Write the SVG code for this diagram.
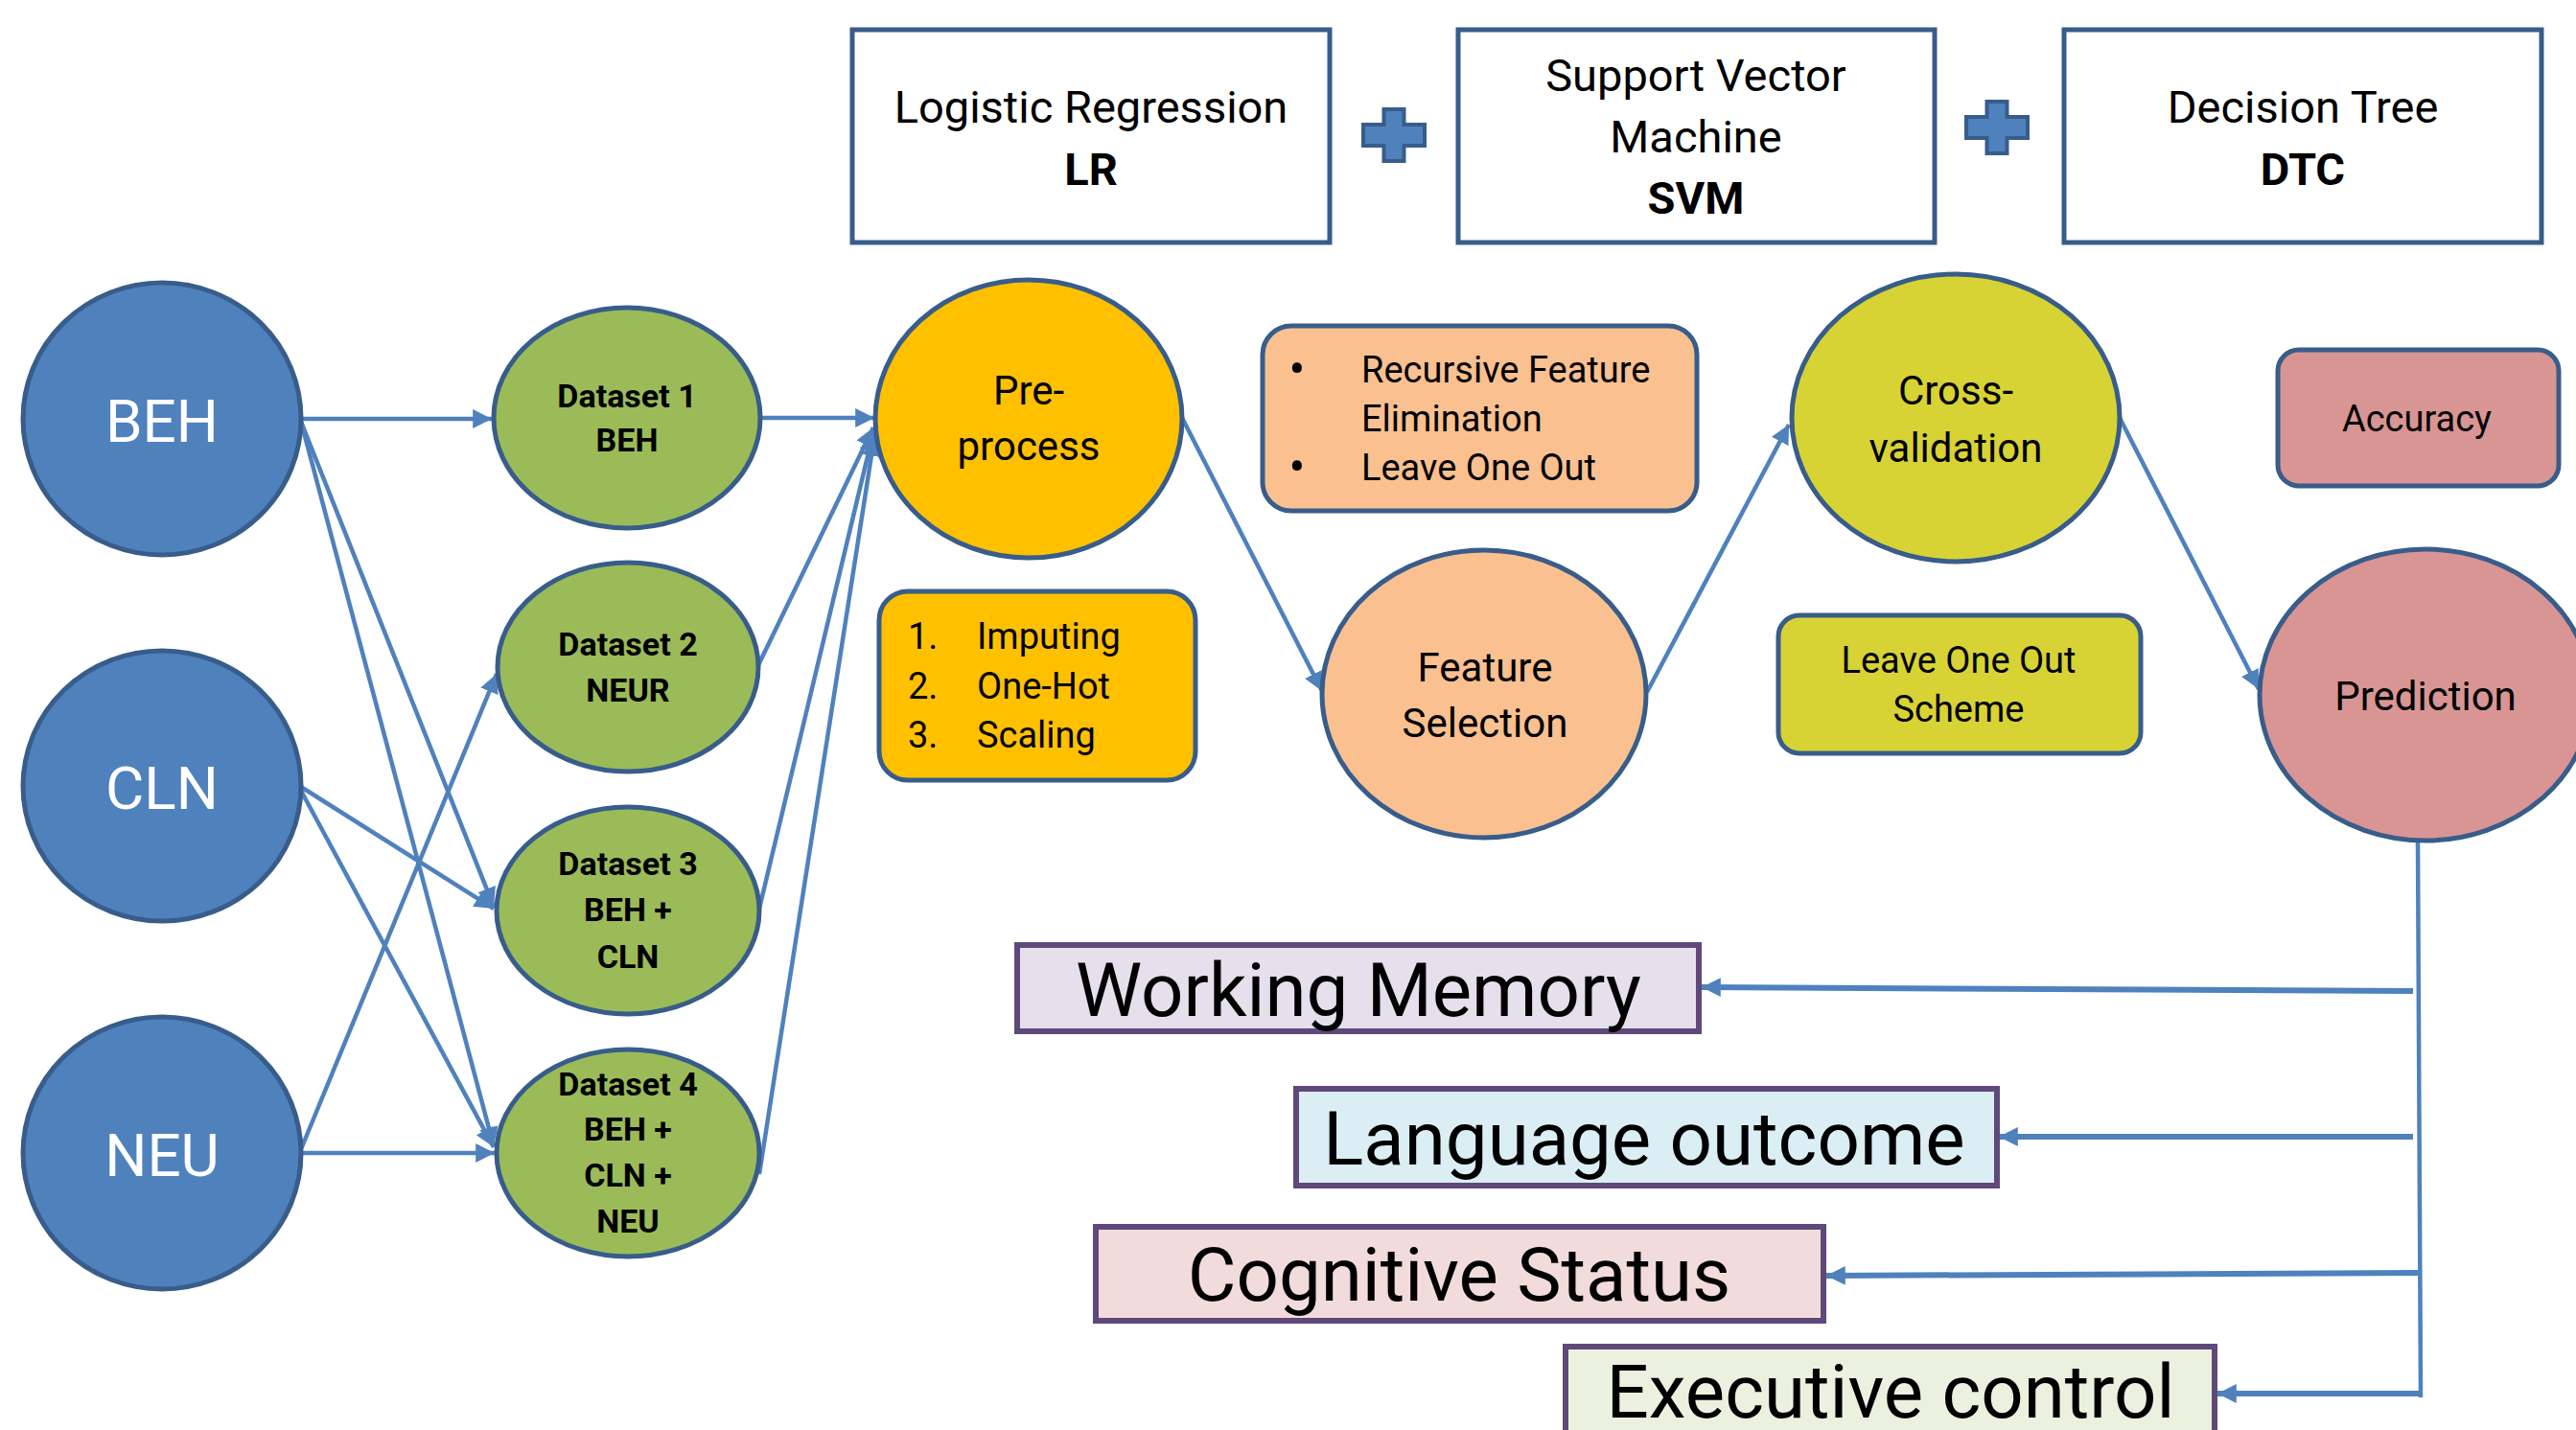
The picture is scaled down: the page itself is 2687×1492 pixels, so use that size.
<svg xmlns="http://www.w3.org/2000/svg" xmlns:xlink="http://www.w3.org/1999/xlink" width="2687" height="1492" viewBox="0 0 2687 1492">
<style>
text{font-family:Roboto,"Liberation Sans",sans-serif;fill:#000;text-anchor:middle}
.src{fill:#4F81BD;stroke:#385D8A;stroke-width:5}
.src-t{fill:#fff;font-size:62px}
.ds{fill:#9BBB59;stroke:#385D8A;stroke-width:5}
.ds-t{font-size:34px;font-weight:bold}
.model{fill:#fff;stroke:#385D8A;stroke-width:5}
.model-t{font-size:47px}
.b{font-weight:bold}
.step{stroke:#385D8A;stroke-width:5}
.step-t{font-size:42px}
.note-t{font-size:38px;text-anchor:start}
.bul{font-size:50px;text-anchor:middle}
.out{stroke:#5F497A;stroke-width:6}
.out-t{font-size:78px}
.conn line{stroke:#4F81BD;stroke-width:4.5;fill:none}
.conn .thick{stroke-width:6}
.plus{fill:#4F81BD;stroke:#385D8A;stroke-width:4}
</style>
<defs>
<marker id="arr" markerUnits="userSpaceOnUse" markerWidth="22" markerHeight="22" viewBox="0 0 20 20" refX="18" refY="10" orient="auto">
<path d="M0,1 L18,10 L0,19 Z" fill="#4F81BD"/>
</marker>
<path id="plusShape" d="M-10.5,-27 H10.5 V-11 H32 V11 H10.5 V27 H-10.5 V11 H-32 V-11 H-10.5 Z"/>
</defs>
<rect width="2687" height="1492" fill="#fff"/>

<g class="conn" id="connectors">
<line x1="314" y1="437" x2="513" y2="437" marker-end="url(#arr)"/>
<line x1="314" y1="440" x2="515" y2="946" marker-end="url(#arr)"/>
<line x1="314" y1="440" x2="515" y2="1196" marker-end="url(#arr)"/>
<line x1="314" y1="821" x2="515" y2="948" marker-end="url(#arr)"/>
<line x1="314" y1="825" x2="515" y2="1197" marker-end="url(#arr)"/>
<line x1="314" y1="1199" x2="518" y2="703" marker-end="url(#arr)"/>
<line x1="314" y1="1203" x2="516" y2="1203" marker-end="url(#arr)"/>
<line x1="794" y1="436" x2="912" y2="436" marker-end="url(#arr)"/>
<line x1="791" y1="694" x2="911" y2="446" marker-end="url(#arr)"/>
<line x1="792" y1="948" x2="911" y2="451" marker-end="url(#arr)"/>
<line x1="792" y1="1225" x2="912" y2="456" marker-end="url(#arr)"/>
<line x1="1233" y1="436" x2="1379" y2="721" marker-end="url(#arr)"/>
<line x1="1718" y1="722" x2="1866" y2="443" marker-end="url(#arr)"/>
<line x1="2211" y1="436" x2="2356" y2="719" marker-end="url(#arr)"/>
<line x1="2522" y1="877" x2="2525" y2="1458"/>
<line class="thick" x1="2517" y1="1034" x2="1775" y2="1030" marker-end="url(#arr)"/>
<line class="thick" x1="2517" y1="1186" x2="2085" y2="1186" marker-end="url(#arr)"/>
<line class="thick" x1="2522" y1="1328" x2="1905" y2="1331" marker-end="url(#arr)"/>
<line class="thick" x1="2525" y1="1454" x2="2313" y2="1454" marker-end="url(#arr)"/>
</g>

<g id="node-beh"><ellipse class="src" cx="169" cy="437" rx="145" ry="142"/><text class="src-t" x="169" y="461">BEH</text></g>
<g id="node-cln"><ellipse class="src" cx="169" cy="820" rx="145" ry="141"/><text class="src-t" x="169" y="844">CLN</text></g>
<g id="node-neu"><ellipse class="src" cx="169" cy="1203" rx="145" ry="142"/><text class="src-t" x="169" y="1227">NEU</text></g>

<g id="node-ds1"><ellipse class="ds" cx="654" cy="436" rx="139" ry="115"/><text class="ds-t" x="654" y="425">Dataset 1</text><text class="ds-t" x="654" y="471">BEH</text></g>
<g id="node-ds2"><ellipse class="ds" cx="655" cy="696" rx="136" ry="109"/><text class="ds-t" x="655" y="684">Dataset 2</text><text class="ds-t" x="655" y="732">NEUR</text></g>
<g id="node-ds3"><ellipse class="ds" cx="655" cy="950" rx="137" ry="108"/><text class="ds-t" x="655" y="913">Dataset 3</text><text class="ds-t" x="655" y="961">BEH +</text><text class="ds-t" x="655" y="1010">CLN</text></g>
<g id="node-ds4"><ellipse class="ds" cx="655" cy="1203" rx="137" ry="108"/><text class="ds-t" x="655" y="1143">Dataset 4</text><text class="ds-t" x="655" y="1190">BEH +</text><text class="ds-t" x="655" y="1238">CLN +</text><text class="ds-t" x="655" y="1286">NEU</text></g>

<g id="node-lr"><rect class="model" x="889" y="31" width="498" height="222"/><text class="model-t" x="1138" y="128">Logistic Regression</text><text class="model-t b" x="1138" y="193">LR</text></g>
<g id="plus-1"><use href="#plusShape" xlink:href="#plusShape" class="plus" transform="translate(1454,141)"/></g>
<g id="node-svm"><rect class="model" x="1521" y="31" width="497" height="222"/><text class="model-t" x="1769" y="95">Support Vector</text><text class="model-t" x="1769" y="159">Machine</text><text class="model-t b" x="1769" y="223">SVM</text></g>
<g id="plus-2"><use href="#plusShape" xlink:href="#plusShape" class="plus" transform="translate(2083,133)"/></g>
<g id="node-dtc"><rect class="model" x="2153" y="31" width="498" height="222"/><text class="model-t" x="2402" y="128">Decision Tree</text><text class="model-t b" x="2402" y="193">DTC</text></g>

<g id="node-preprocess"><ellipse class="step" fill="#FFC000" cx="1073" cy="437" rx="160" ry="145"/><text class="step-t" x="1073" y="422">Pre-</text><text class="step-t" x="1073" y="480">process</text></g>
<g id="note-preprocess"><rect class="step" fill="#FFC000" x="917" y="617" width="330" height="197" rx="30"/>
<text class="note-t" x="947" y="677">1.</text><text class="note-t" x="1019" y="677">Imputing</text>
<text class="note-t" x="947" y="729">2.</text><text class="note-t" x="1019" y="729">One-Hot</text>
<text class="note-t" x="947" y="780">3.</text><text class="note-t" x="1019" y="780">Scaling</text></g>

<g id="note-fs"><rect class="step" fill="#FAC090" x="1317" y="340" width="453" height="193" rx="30"/>
<text class="bul" x="1353" y="402">•</text><text class="note-t" x="1420" y="399">Recursive Feature</text>
<text class="note-t" x="1420" y="450">Elimination</text>
<text class="bul" x="1353" y="504">•</text><text class="note-t" x="1420" y="501">Leave One Out</text></g>
<g id="node-fs"><ellipse class="step" fill="#FAC090" cx="1548" cy="724" rx="169" ry="150"/><text class="step-t" x="1549" y="711">Feature</text><text class="step-t" x="1549" y="769">Selection</text></g>

<g id="node-cv"><ellipse class="step" fill="#D7D335" cx="2040" cy="436" rx="171" ry="150"/><text class="step-t" x="2040" y="422">Cross-</text><text class="step-t" x="2040" y="482">validation</text></g>
<g id="note-cv"><rect class="step" fill="#D7D335" x="1855" y="642" width="378" height="144" rx="22"/><text class="note-t" style="text-anchor:middle" x="2043" y="702">Leave One Out</text><text class="note-t" style="text-anchor:middle" x="2043" y="753">Scheme</text></g>

<g id="node-accuracy"><rect class="step" fill="#D99594" x="2376" y="365" width="293" height="142" rx="22"/><text class="note-t" style="text-anchor:middle" x="2521" y="450">Accuracy</text></g>
<g id="node-prediction"><ellipse class="step" fill="#D99594" cx="2530" cy="725" rx="173" ry="152"/><text class="step-t" x="2530" y="741">Prediction</text></g>

<g id="out-wm"><rect class="out" fill="#E5E0EC" x="1061" y="986" width="711" height="90"/><text class="out-t" x="1417" y="1060">Working Memory</text></g>
<g id="out-lo"><rect class="out" fill="#DBEEF4" x="1352" y="1136" width="731" height="101"/><text class="out-t" x="1715" y="1215">Language outcome</text></g>
<g id="out-cs"><rect class="out" fill="#F2DCDB" x="1143" y="1280" width="759" height="98"/><text class="out-t" x="1522" y="1357">Cognitive Status</text></g>
<g id="out-ec"><rect class="out" fill="#EBF1DE" x="1633" y="1405" width="677" height="110"/><text class="out-t" x="1972" y="1479">Executive control</text></g>
</svg>
